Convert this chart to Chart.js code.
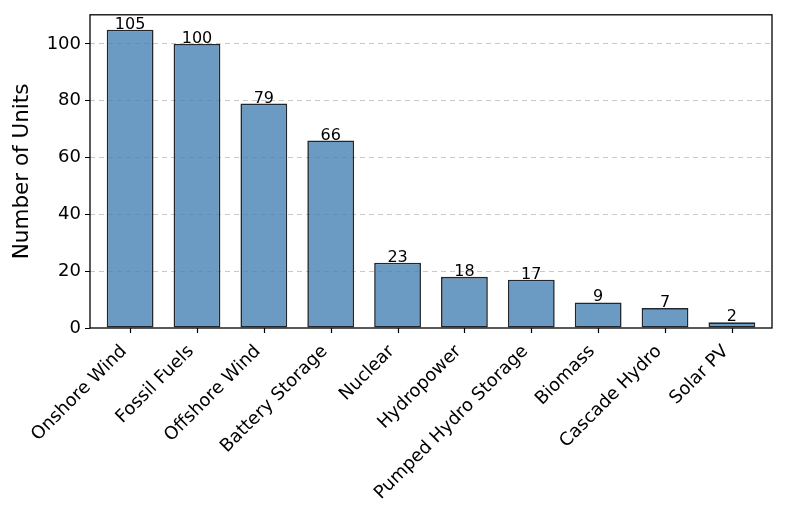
<!DOCTYPE html>
<html>
<head>
<meta charset="utf-8">
<script src="https://cdn.jsdelivr.net/npm/chart.js@4.4.0/dist/chart.umd.min.js"></script>
<style>
  html, body { margin: 0; padding: 0; background: #fff; }
  #wrap { width: 786px; height: 519px; }
</style>
</head>
<body>
<div id="wrap"><canvas id="barChart" width="786" height="519"></canvas></div>
<script>
"use strict";
// Chart data
const categories = ["Onshore Wind", "Fossil Fuels", "Offshore Wind", "Battery Storage", "Nuclear",
    "Hydropower", "Pumped Hydro Storage", "Biomass", "Cascade Hydro", "Solar PV"];
const unitCounts = [105, 100, 79, 66, 23, 18, 17, 9, 7, 2];
const yTicks = [0, 20, 40, 60, 80, 100];

const font = "'DejaVu Sans', sans-serif";

// value labels above the bars, x tick marks, black frame around the plot
const valueLabels = {
    id: 'valueLabels',
    afterDatasetsDraw(chart) {
        const ctx = chart.ctx;
        const meta = chart.getDatasetMeta(0);
        const a = chart.chartArea;
        const xScale = chart.scales.x;
        ctx.save();
        ctx.fillStyle = '#000';
        ctx.font = "16px " + font;
        ctx.textAlign = 'center';
        ctx.textBaseline = 'alphabetic';
        meta.data.forEach((bar, i) => {
            ctx.fillText(String(unitCounts[i]), bar.x, bar.y - 1);
        });
        // tick marks under each category
        ctx.strokeStyle = '#000';
        ctx.lineWidth = 1.2;
        categories.forEach((c, i) => {
            const x = Math.round(xScale.getPixelForValue(i)) + 0.5;
            ctx.beginPath();
            ctx.moveTo(x, a.bottom);
            ctx.lineTo(x, a.bottom + 5);
            ctx.stroke();
        });
        ctx.lineWidth = 1.3;
        ctx.strokeRect(a.left, a.top, a.right - a.left, a.bottom - a.top);
        ctx.restore();
    }
};

const ctx = document.getElementById('barChart').getContext('2d');
new Chart(ctx, {
    type: 'bar',
    data: {
        datasets: [{
            data: unitCounts.map((v, i) => ({ x: i, y: v })),
            backgroundColor: 'rgba(70, 130, 180, 0.8)',
            borderColor: '#22272d',
            borderWidth: 1.6,
            borderSkipped: false,
            categoryPercentage: 1,
            barPercentage: 0.7
        }]
    },
    options: {
        responsive: false,
        animation: false,
        events: [],
        layout: { padding: { top: 14, right: 14, left: 10, bottom: 0 } },
        plugins: {
            legend: { display: false },
            tooltip: { enabled: false }
        },
        scales: {
            x: {
                type: 'linear',
                offset: false,
                min: -0.6,
                max: 9.6,
                afterBuildTicks: (scale) => {
                    scale.ticks = categories.map((c, i) => ({ value: i }));
                },
                afterFit: (scale) => { scale.height = 519 - 328; },
                grid: { display: false, tickLength: 5 },
                border: { display: false },
                ticks: {
                    autoSkip: false,
                    minRotation: 45,
                    maxRotation: 45,
                    color: '#000',
                    padding: 8,
                    labelOffset: -6,
                    font: { family: font, size: 18 },
                    callback: (v) => categories[v]
                }
            },
            y: {
                min: 0,
                max: 110.25,
                afterBuildTicks: (scale) => {
                    scale.ticks = yTicks.map(v => ({ value: v }));
                },
                afterFit: (scale) => { scale.width = 80; },
                grid: {
                    display: true,
                    color: (c) => c.tick && c.tick.value === 0 ? 'rgba(0,0,0,0)' : '#c8c8c8',
                    tickColor: '#000',
                    tickLength: 5,
                    drawOnChartArea: true
                },
                border: { display: false, dash: [5, 4] },
                ticks: {
                    color: '#000',
                    padding: 4,
                    font: { family: font, size: 18 }
                },
                title: {
                    display: true,
                    text: 'Number of Units',
                    color: '#000',
                    padding: { top: 0, bottom: 4 },
                    font: { family: font, size: 21.5 }
                }
            }
        }
    },
    plugins: [valueLabels]
});
</script>
</body>
</html>
